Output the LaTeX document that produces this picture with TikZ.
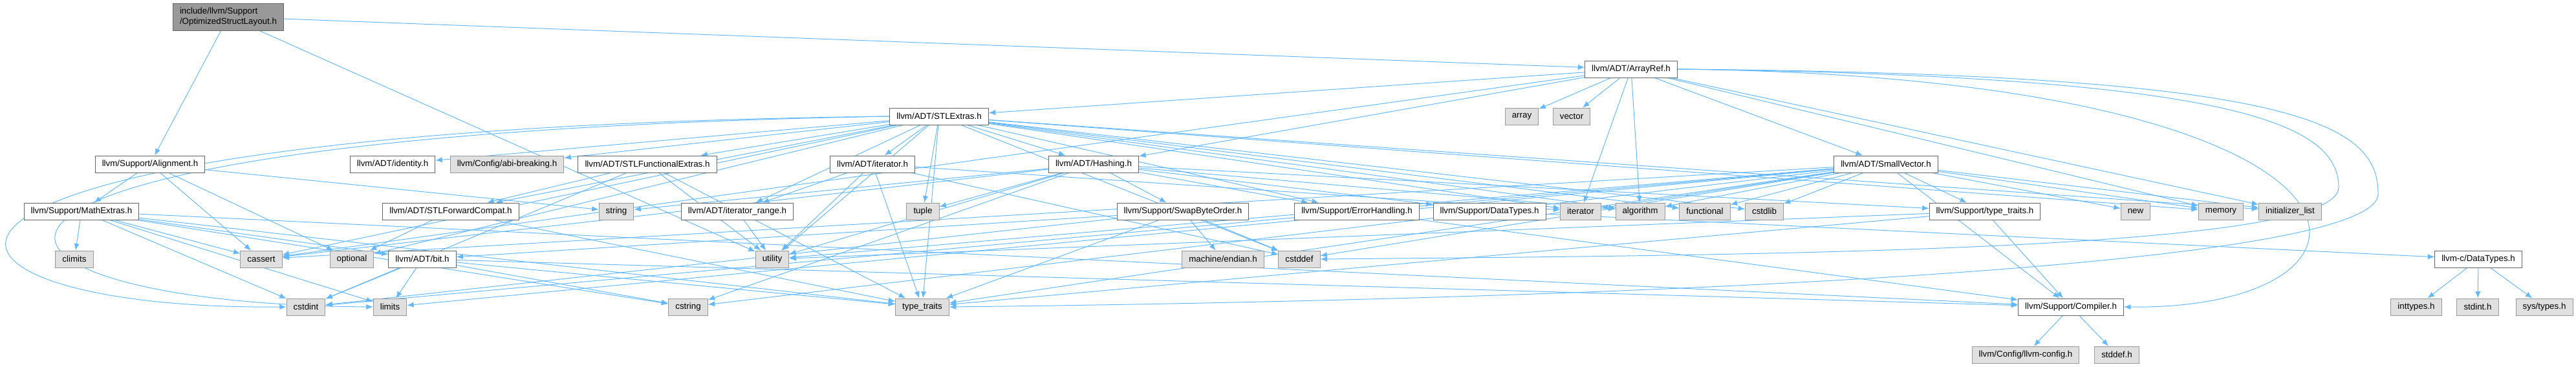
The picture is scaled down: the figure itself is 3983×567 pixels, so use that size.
\documentclass[tikz,border=0pt]{standalone}
\usepackage{fontspec}
\setmainfont{Liberation Sans}
\usepackage{tikz}
\usetikzlibrary{arrows.meta,backgrounds}
\definecolor{edgeblue}{RGB}{99,184,255}
\definecolor{sysgray}{RGB}{224,224,224}
\definecolor{sysborder}{RGB}{153,153,153}
\definecolor{hdrborder}{RGB}{102,102,102}
\definecolor{rootgray}{RGB}{153,153,153}

\begin{document}
\begin{tikzpicture}[
    x=0.025cm, y=-0.025cm,
    hdr/.style={draw=hdrborder, fill=white, line width=0.7pt, minimum height=6.5mm, inner xsep=7.5pt, inner ysep=2pt, font=\fontsize{9.5}{11}\selectfont},
    sys/.style={hdr, draw=sysborder, fill=sysgray},
    arrow/.style={-{Latex[length=2.6mm,width=2.1mm]}, draw=edgeblue, line width=0.7pt}
]
\useasboundingbox (0,0) rectangle (3983,567);

\node[hdr, fill=rootgray, align=left, minimum height=10.5mm] (root) at (353,26) {include/llvm/Support\\/OptimizedStructLayout.h};

\node[hdr] (aref) at (2522,107) {llvm/ADT/ArrayRef.h};

\node[hdr] (stl) at (1452,180) {llvm/ADT/STLExtras.h};
\node[sys] (array) at (2353,180) {array};
\node[sys] (vector) at (2430,180) {vector};

\node[hdr] (align) at (232,254) {llvm/Support/Alignment.h};
\node[hdr] (ident) at (607,254) {llvm/ADT/identity.h};
\node[sys] (abi) at (784,254) {llvm/Config/abi-breaking.h};
\node[hdr] (funcext) at (1001,254) {llvm/ADT/STLFunctionalExtras.h};
\node[hdr] (iterh) at (1349,254) {llvm/ADT/iterator.h};
\node[hdr] (hash) at (1691,254) {llvm/ADT/Hashing.h};
\node[hdr] (smallvec) at (2916,254) {llvm/ADT/SmallVector.h};

\node[hdr] (math) at (126,327) {llvm/Support/MathExtras.h};
\node[hdr] (fwdcompat) at (697,327) {llvm/ADT/STLForwardCompat.h};
\node[sys] (string) at (953,327) {string};
\node[hdr] (itrange) at (1140,327) {llvm/ADT/iterator\_range.h};
\node[sys] (tuple) at (1427,327) {tuple};
\node[hdr] (swap) at (1829,327) {llvm/Support/SwapByteOrder.h};
\node[hdr] (errh) at (2098,327) {llvm/Support/ErrorHandling.h};
\node[hdr] (dtypes) at (2303,327) {llvm/Support/DataTypes.h};
\node[sys] (iterator) at (2444,327) {iterator};
\node[sys] (algo) at (2536,327) {algorithm};
\node[sys] (functional) at (2636,327) {functional};
\node[sys] (cstdlib) at (2728,327) {cstdlib};
\node[hdr] (ttraitsh) at (3069,327) {llvm/Support/type\_traits.h};
\node[sys] (new) at (3302,327) {new};
\node[sys] (memory) at (3434,327) {memory};
\node[sys] (initlist) at (3541,327) {initializer\_list};

\node[sys] (climits) at (115,401) {climits};
\node[sys] (cassert) at (404,401) {cassert};
\node[sys] (optional) at (544,401) {optional};
\node[hdr] (bit) at (653,401) {llvm/ADT/bit.h};
\node[sys] (utility) at (1194,401) {utility};
\node[sys] (endian) at (1891,401) {machine/endian.h};
\node[sys] (cstddef) at (2009,401) {cstddef};
\node[hdr] (cdtypes) at (3832,401) {llvm-c/DataTypes.h};

\node[sys] (cstdint) at (473,475) {cstdint};
\node[sys] (limits) at (603,475) {limits};
\node[sys] (cstring) at (1064,475) {cstring};
\node[sys] (ttraits) at (1426,475) {type\_traits};
\node[hdr] (compiler) at (3202,475) {llvm/Support/Compiler.h};
\node[sys] (inttypes) at (3736,475) {inttypes.h};
\node[sys] (stdint) at (3831,475) {stdint.h};
\node[sys] (systypes) at (3934,475) {sys/types.h};

\node[sys] (llvmconf) at (3132,549) {llvm/Config/llvm-config.h};
\node[sys] (stddef) at (3273,549) {stddef.h};

\begin{scope}[on background layer]
\draw[arrow] (root) -- (aref);
\draw[arrow] (root) -- (align);
\draw[arrow] (root) -- (utility);

\draw[arrow] (align) -- (math);
\draw[arrow] (align) -- (cassert);
\draw[arrow] (align) -- (optional);
\draw[arrow] (align) -- (string);

\draw[arrow] (math) -- (climits);
\draw[arrow] (math) -- (cassert);
\draw[arrow] (math) -- (bit);
\draw[arrow] (math) -- (cstdint);
\draw[arrow] (math) -- (limits);
\draw[arrow] (math) -- (compiler);
\draw[arrow] (math) -- (cstring);
\draw[arrow] (math) -- (ttraits);

\draw[arrow] (bit) -- (cstdint);
\draw[arrow] (bit) -- (limits);
\draw[arrow] (bit) -- (cstring);
\draw[arrow] (bit) -- (ttraits);
\draw[arrow] (bit) -- (compiler);

\draw[arrow] (aref) -- (stl);
\draw[arrow] (aref) -- (hash);
\draw[arrow] (aref) -- (smallvec);
\draw[arrow] (aref.east) .. controls (3740,120) and (3740,480) .. (compiler.east);
\draw[arrow] (aref) -- (algo);
\draw[arrow] (aref) -- (array);
\draw[arrow] (aref) -- (vector);
\draw[arrow] (aref) -- (cassert);
\draw[arrow] (aref.east) .. controls (3450,118) and (3616,190) .. (3616,290) .. controls (3616,390) and (2700,395) .. (cstddef.east);
\draw[arrow] (aref) -- (initlist);
\draw[arrow] (aref) -- (iterator);
\draw[arrow] (aref) -- (memory);
\draw[arrow] (aref.east) .. controls (3550,115) and (3677,190) .. (3677,300) .. controls (3677,420) and (2400,465) .. (ttraits.east);

\draw[arrow] (stl) -- (hash);
\draw[arrow] (stl) -- (fwdcompat);
\draw[arrow] (stl) -- (funcext);
\draw[arrow] (stl) -- (ident);
\draw[arrow] (stl) -- (iterh);
\draw[arrow] (stl) -- (itrange);
\draw[arrow] (stl) -- (abi);
\draw[arrow] (stl) -- (errh);
\draw[arrow] (stl) -- (algo);
\draw[arrow] (stl) -- (cassert);
\draw[arrow] (stl) -- (cstddef);
\draw[arrow] (stl.west) .. controls (-300,200) and (-200,480) .. (cstdint.west);
\draw[arrow] (stl) -- (cstdlib);
\draw[arrow] (stl) -- (functional);
\draw[arrow] (stl) -- (initlist);
\draw[arrow] (stl) -- (iterator);
\draw[arrow] (stl.west) .. controls (-250,210) and (-120,470) .. (limits.west);
\draw[arrow] (stl) -- (memory);
\draw[arrow] (stl) -- (optional);
\draw[arrow] (stl) -- (tuple);
\draw[arrow] (stl) -- (ttraits);
\draw[arrow] (stl) -- (utility);

\draw[arrow] (hash) -- (errh);
\draw[arrow] (hash) -- (swap);
\draw[arrow] (hash) -- (ttraitsh);
\draw[arrow] (hash) -- (dtypes);
\draw[arrow] (hash) -- (algo);
\draw[arrow] (hash) -- (cassert);
\draw[arrow] (hash) -- (cstring);
\draw[arrow] (hash) -- (string);
\draw[arrow] (hash) -- (tuple);
\draw[arrow] (hash) -- (utility);

\draw[arrow] (swap) -- (bit);
\draw[arrow] (swap) -- (cstddef);
\draw[arrow] (swap) -- (cstdint);
\draw[arrow] (swap) -- (ttraits);
\draw[arrow] (swap) -- (endian);

\draw[arrow] (errh) -- (compiler);
\draw[arrow] (dtypes) -- (cdtypes);
\draw[arrow] (cdtypes) -- (inttypes);
\draw[arrow] (cdtypes) -- (stdint);
\draw[arrow] (cdtypes) -- (systypes);
\draw[arrow] (compiler) -- (llvmconf);
\draw[arrow] (compiler) -- (stddef);

\draw[arrow] (ttraitsh) -- (ttraits);
\draw[arrow] (ttraitsh) -- (utility);
\draw[arrow] (ttraitsh) -- (compiler);

\draw[arrow] (iterh) -- (itrange);
\draw[arrow] (iterh) -- (cstddef);
\draw[arrow] (iterh) -- (iterator);
\draw[arrow] (iterh) -- (ttraits);
\draw[arrow] (iterh) -- (utility);
\draw[arrow] (itrange) -- (utility);

\draw[arrow] (fwdcompat) -- (optional);
\draw[arrow] (fwdcompat) -- (ttraits);
\draw[arrow] (funcext) -- (fwdcompat);
\draw[arrow] (funcext) -- (cstdint);
\draw[arrow] (funcext) -- (ttraits);
\draw[arrow] (funcext) -- (utility);

\draw[arrow] (smallvec) -- (compiler);
\draw[arrow] (smallvec) -- (ttraitsh);
\draw[arrow] (smallvec) -- (algo);
\draw[arrow] (smallvec) -- (cassert);
\draw[arrow] (smallvec) -- (cstddef);
\draw[arrow] (smallvec) -- (cstdint);
\draw[arrow] (smallvec) -- (cstdlib);
\draw[arrow] (smallvec) -- (cstring);
\draw[arrow] (smallvec) -- (functional);
\draw[arrow] (smallvec) -- (initlist);
\draw[arrow] (smallvec) -- (iterator);
\draw[arrow] (smallvec) -- (limits);
\draw[arrow] (smallvec) -- (memory);
\draw[arrow] (smallvec) -- (new);
\draw[arrow] (smallvec) -- (ttraits);
\draw[arrow] (smallvec) -- (utility);
\end{scope}
\end{tikzpicture}
\end{document}
